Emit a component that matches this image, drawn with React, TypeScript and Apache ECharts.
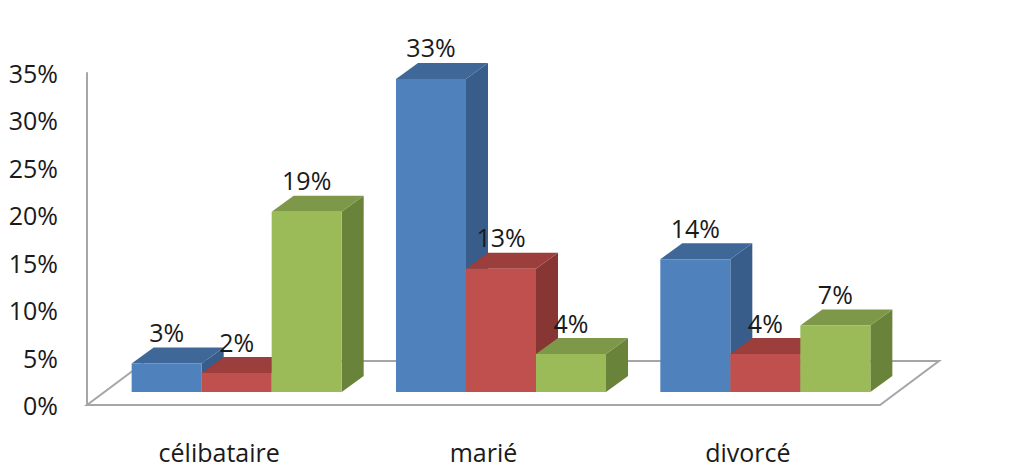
import React, { useEffect, useRef } from "react";
import * as echarts from "echarts";

const categories = ["célibataire", "marié", "divorcé"];
const seriesBlue = [3, 33, 14];
const seriesRed = [2, 13, 4];
const seriesGreen = [19, 4, 7];
const allSeries = [seriesBlue, seriesRed, seriesGreen];
const yMin = 0;
const yMax = 35;
const yInterval = 5;

const faceColors = [
  { front: "#4F81BD", top: "#3F6899", side: "#385D8A" },
  { front: "#C0504D", top: "#9C3E3B", side: "#873634" },
  { front: "#9BBB59", top: "#7D9848", side: "#6A833B" },
];

const GAP = { x: 17.5, y: 13 };
const BAR_D = { x: 22, y: 16 };
const FLOOR_D = { x: 59, y: 44 };
const BAR_RATIO = 70 / 264.3;
const FONT = '"Open Sans", "Noto Sans", sans-serif';
const TEXT_COLOR = "#1a1a1a";
const LINE_COLOR = "#A6A6A6";

function barGeom(api: any, k: number) {
  const ci = api.value(0);
  const v = api.value(1);
  const base = api.coord([ci, 0]);
  const top = api.coord([ci, v]);
  const band = api.size([1, 0])[0];
  const w = band * BAR_RATIO;
  const x0 = base[0] - 1.5 * w + k * w + GAP.x;
  const x1 = x0 + w;
  const yb = base[1] - GAP.y;
  const yt = top[1] - GAP.y;
  return { v, w, x0, x1, yb, yt };
}

export default function App() {
  const ref = useRef<HTMLDivElement>(null);
  useEffect(() => {
    document.body.style.margin = "0";
    const chart = echarts.init(ref.current!, null, { renderer: "svg" });

    const floorSeries: any = {
      type: "custom",
      coordinateSystem: "cartesian2d",
      clip: false,
      z: 1,
      silent: true,
      data: [[0, 0]],
      renderItem: (params: any, api: any) => {
        const n = categories.length;
        const first = api.coord([0, 0]);
        const last = api.coord([n - 1, 0]);
        const band = api.size([1, 0])[0];
        const L = first[0] - band / 2;
        const R = last[0] + band / 2;
        const y = first[1];
        return {
          type: "polygon",
          shape: {
            points: [
              [L, y],
              [R, y],
              [R + FLOOR_D.x, y - FLOOR_D.y],
              [L + FLOOR_D.x, y - FLOOR_D.y],
            ],
          },
          style: { fill: "#ffffff", stroke: LINE_COLOR, lineWidth: 2 },
        };
      },
    };

    const barSeries = allSeries.map((data, k) => ({
      type: "custom",
      coordinateSystem: "cartesian2d",
      clip: false,
      z: 3,
      data: data.map((v, i) => [i, v]),
      encode: { x: 0, y: 1 },
      renderItem: (params: any, api: any) => {
        const g = barGeom(api, k);
        const c = faceColors[k];
        return {
          type: "group",
          children: [
            {
              type: "polygon",
              shape: {
                points: [
                  [g.x1, g.yt],
                  [g.x1 + BAR_D.x, g.yt - BAR_D.y],
                  [g.x1 + BAR_D.x, g.yb - BAR_D.y],
                  [g.x1, g.yb],
                ],
              },
              style: { fill: c.side },
            },
            {
              type: "polygon",
              shape: {
                points: [
                  [g.x0, g.yt],
                  [g.x1, g.yt],
                  [g.x1 + BAR_D.x, g.yt - BAR_D.y],
                  [g.x0 + BAR_D.x, g.yt - BAR_D.y],
                ],
              },
              style: { fill: c.top },
            },
            {
              type: "rect",
              shape: { x: g.x0, y: g.yt, width: g.w, height: g.yb - g.yt },
              style: { fill: c.front },
            },
          ],
        };
      },
    }));

    const labelSeries = allSeries.map((data, k) => ({
      type: "custom",
      coordinateSystem: "cartesian2d",
      clip: false,
      z: 6,
      silent: true,
      data: data.map((v, i) => [i, v]),
      encode: { x: 0, y: 1 },
      renderItem: (params: any, api: any) => {
        const g = barGeom(api, k);
        return {
          type: "text",
          x: (g.x0 + g.x1) / 2,
          y: g.yt - BAR_D.y - 3,
          style: {
            text: `${g.v}%`,
            fill: TEXT_COLOR,
            fontSize: 25,
            fontFamily: FONT,
            align: "center",
            verticalAlign: "bottom",
          },
        };
      },
    }));

    chart.setOption({
      animation: false,
      backgroundColor: "#ffffff",
      grid: { left: 87, top: 73, width: 793, height: 332 },
      xAxis: {
        type: "category",
        data: categories,
        axisLine: { show: false },
        axisTick: { show: false },
        axisLabel: {
          margin: 34,
          fontSize: 25,
          fontFamily: FONT,
          color: TEXT_COLOR,
        },
        splitLine: { show: false },
      },
      yAxis: {
        type: "value",
        min: yMin,
        max: yMax,
        interval: yInterval,
        axisLine: { show: true, lineStyle: { color: LINE_COLOR, width: 2 } },
        axisTick: { show: false },
        splitLine: { show: false },
        axisLabel: {
          formatter: "{value}%",
          margin: 29,
          fontSize: 25,
          fontFamily: FONT,
          color: TEXT_COLOR,
        },
      },
      series: [floorSeries, ...barSeries, ...labelSeries],
    });
    return () => chart.dispose();
  }, []);

  return (
    <div
      ref={ref}
      style={{
        position: "fixed",
        left: 0,
        top: 0,
        width: 1014,
        height: 474,
        background: "#ffffff",
      }}
    />
  );
}
